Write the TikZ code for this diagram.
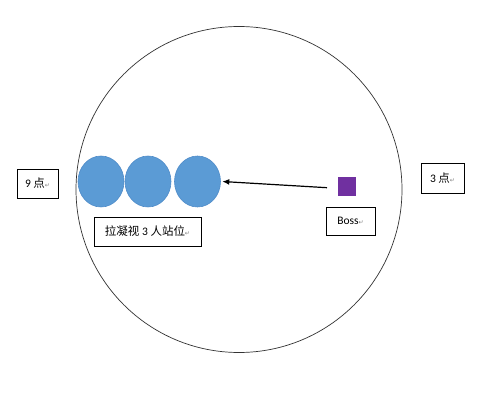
\documentclass[tikz,border=0pt]{standalone}
\usepackage{fontspec}
\setmainfont{Carlito}
\newfontfamily\cjk{Noto Sans CJK SC}
\newfontfamily\sym{DejaVu Sans}
\definecolor{ballblue}{HTML}{5B9BD5}
\definecolor{ballline}{HTML}{4F8CC9}
\definecolor{bosspurple}{HTML}{7030A0}
\newcommand{\pmark}{{\sym\fontsize{6}{6}\selectfont\color{gray}↵}}
\tikzset{
  lbl/.style={draw=black, line width=0.8pt, fill=white, inner sep=0pt, font=\fontsize{11.5}{13}\selectfont},
  ball/.style={ellipse, fill=ballblue, draw=ballline, line width=0.6pt, minimum width=46pt, minimum height=51pt, inner sep=0pt},
}
\usetikzlibrary{shapes.geometric,arrows.meta}
\begin{document}
\begin{tikzpicture}[x=1pt,y=-1pt]
\useasboundingbox (0,0) rectangle (480,401);
\fill[white] (0,0) rectangle (480,401);
\node[circle, draw=black!80, line width=0.7pt, minimum size=326pt, inner sep=0pt] (arena) at (239,189.5) {};
\node[ball] (b1) at (101,181.5) {};
\node[ball] (b2) at (148,181.5) {};
\node[ball] (b3) at (197.5,181.5) {};
\node[fill=bosspurple, minimum width=18pt, minimum height=19pt, inner sep=0pt] (boss) at (347,186.5) {};
\coordinate (tail) at (327,187.7);
\draw[-{Latex[length=7pt,width=6pt]}, line width=1.2pt] (tail) -- ([xshift=1.5pt]b3.east);
\node[lbl, minimum width=41pt, minimum height=29pt] (nine) at (37.5,183.5) {9 {\cjk 点}\pmark};
\node[lbl, minimum width=43pt, minimum height=30pt] (three) at (442.5,178) {3 {\cjk 点}\pmark};
\node[lbl, minimum width=49pt, minimum height=28pt] (bosslbl) at (350.5,221) {Boss\pmark};
\node[lbl, minimum width=107pt, minimum height=29pt] (team) at (147.5,231.5) {{\cjk 拉凝视} 3 {\cjk 人站位}\pmark};
\end{tikzpicture}
\end{document}
